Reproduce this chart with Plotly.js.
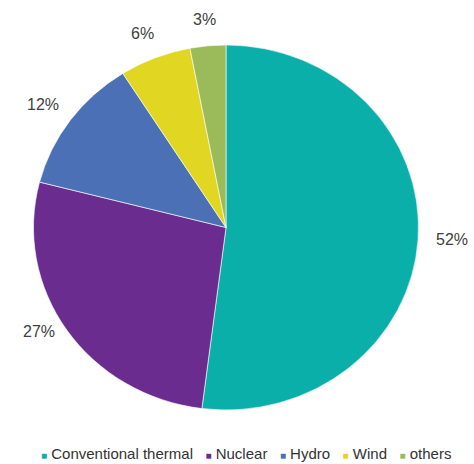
<!DOCTYPE html>
<html><head><meta charset="utf-8">
<script src="https://cdn.plot.ly/plotly-3.0.1.min.js"></script>
<style>html,body{margin:0;padding:0;background:#fff}#chart{width:474px;height:464px}</style>
</head><body><div id="chart"></div>
<script>
const labels = ["Conventional thermal", "Nuclear", "Hydro", "Wind", "others"];
const values = [52, 27, 12, 6, 3];
const colors = ["#0AAFA9", "#6A2C8E", "#4B70B6", "#E1D622", "#9BBB5A"];

const W = 474, H = 464;
const cx = 226, cy = 227.5, ry = 182.5, rx = 192.5;
const stretch = rx / ry;
const FONT = '"Liberation Sans", Arial, sans-serif';

const total = values.reduce((a, b) => a + b, 0);
let cum = 0;
const annotations = [];
values.forEach((v, i) => {
  const mid = (cum + v / 2) / total * 2 * Math.PI; cum += v;
  const c = Math.cos(mid);
  const px = cx + (rx + 34) * Math.sin(mid);
  const py = cy - (ry + (c > 0 ? 26 : 2)) * c;
  annotations.push({x: px / W, y: 1 - py / H, xref: 'paper', yref: 'paper',
    text: Math.round(v / total * 100) + '%', showarrow: false,
    xanchor: 'center', yanchor: 'middle',
    font: {family: FONT, size: 16, color: '#404040'}});
});
const legendText = labels.map((l, i) =>
  `<span style="color:${colors[i]};font-size:10px">■</span>\u00A0${l}`).join('\u00A0\u00A0\u00A0');
annotations.push({x: 246 / W, y: 1 - 453 / H, xref: 'paper', yref: 'paper', text: legendText,
  showarrow: false, xanchor: 'center', yanchor: 'middle',
  font: {family: FONT, size: 15, color: '#333333'}});

const data = [{
  type: 'pie', labels: labels, values: values, sort: false, direction: 'clockwise', rotation: 0,
  marker: {colors: colors, line: {color: '#ffffff', width: 0.6}},
  textinfo: 'none', hoverinfo: 'none', showlegend: false,
  domain: {x: [(cx - ry) / W, (cx + ry) / W], y: [1 - (cy + ry) / H, 1 - (cy - ry) / H]}
}];
const layout = {width: W, height: H, margin: {l: 0, r: 0, t: 0, b: 0},
  paper_bgcolor: '#ffffff', showlegend: false, annotations: annotations, font: {family: FONT}};

Plotly.newPlot('chart', data, layout, {staticPlot: true, displayModeBar: false}).then(gd => {
  const paths = gd.querySelectorAll('.pielayer path.surface');
  let minX = Infinity, maxX = -Infinity;
  paths.forEach(p => { const b = p.getBBox(); minX = Math.min(minX, b.x); maxX = Math.max(maxX, b.x + b.width); });
  const c = (minX + maxX) / 2;
  paths.forEach(p => {
    const old = p.getAttribute('transform') || '';
    p.setAttribute('transform', `translate(${c},0) scale(${stretch},1) translate(${-c},0) ${old}`);
  });
});
</script></body></html>
